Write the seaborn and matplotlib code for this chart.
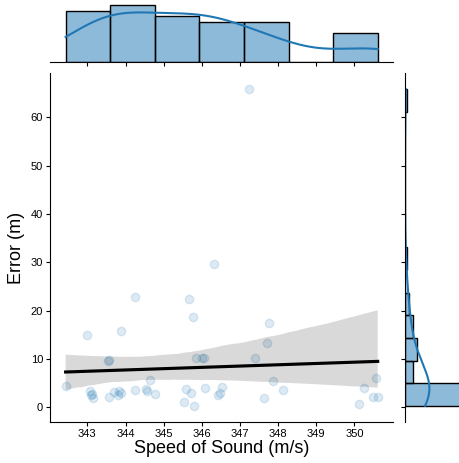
import matplotlib
matplotlib.use("Agg")
import matplotlib.pyplot as plt
import numpy as np
import pandas as pd
import seaborn as sns

speed = [342.43, 343.00, 343.07, 343.09, 343.12, 343.15, 343.53, 343.56, 343.57,
         343.71, 343.80, 343.84, 343.87, 343.88, 344.25, 344.26, 344.53, 344.57, 344.63,
         344.78, 345.54, 345.58, 345.66, 345.72, 345.78, 345.80, 345.86,
         346.00, 346.07, 346.09, 346.32, 346.42, 346.48, 346.52,
         347.24, 347.39, 347.64, 347.72, 347.77, 347.86, 348.13,
         350.12, 350.25, 350.50, 350.57, 350.61]
error = [4.4, 15.0, 3.3, 2.5, 2.7, 2.0, 9.6, 2.1, 9.8,
         3.2, 2.6, 3.4, 15.7, 3.0, 3.6, 22.9, 3.7, 3.4, 5.6,
         2.7, 1.0, 3.8, 22.4, 3.0, 18.7, 0.3, 10.1,
         10.1, 10.1, 4.0, 29.7, 2.5, 3.0, 4.3,
         65.8, 10.3, 1.9, 13.3, 17.4, 5.5, 3.6,
         0.7, 3.9, 2.1, 6.1, 2.1]

x_label = "Speed of Sound (m/s)"
y_label = "Error (m)"
df = pd.DataFrame({x_label: speed, y_label: error})

plt.rcParams['font.family'] = ['Liberation Sans', 'DejaVu Sans']

g = sns.jointplot(data=df, x=x_label, y=y_label, kind="reg", height=4.6,
                  ratio=5, space=0.2, seed=0,
                  scatter_kws={"alpha": 0.15},
                  line_kws={"color": "black"})
fig = g.figure
fig.set_size_inches(4.6, 4.63)
g.ax_joint.set_position([0.1087, 0.0892, 0.7463, 0.7525])
g.ax_marg_x.set_position([0.1087, 0.8667, 0.7463, 0.1285])
g.ax_marg_y.set_position([0.8804, 0.0892, 0.129, 0.7525])

g.ax_joint.set_xticks([343, 344, 345, 346, 347, 348, 349, 350])
g.ax_joint.set_xlabel(x_label, fontsize=13, labelpad=1)
g.ax_joint.set_ylabel(y_label, fontsize=13, labelpad=4)
g.ax_joint.tick_params(labelsize=8, length=3, pad=2)
g.ax_marg_x.tick_params(length=3)
g.ax_marg_y.tick_params(length=3)

fig.savefig("out.png", dpi=100)
